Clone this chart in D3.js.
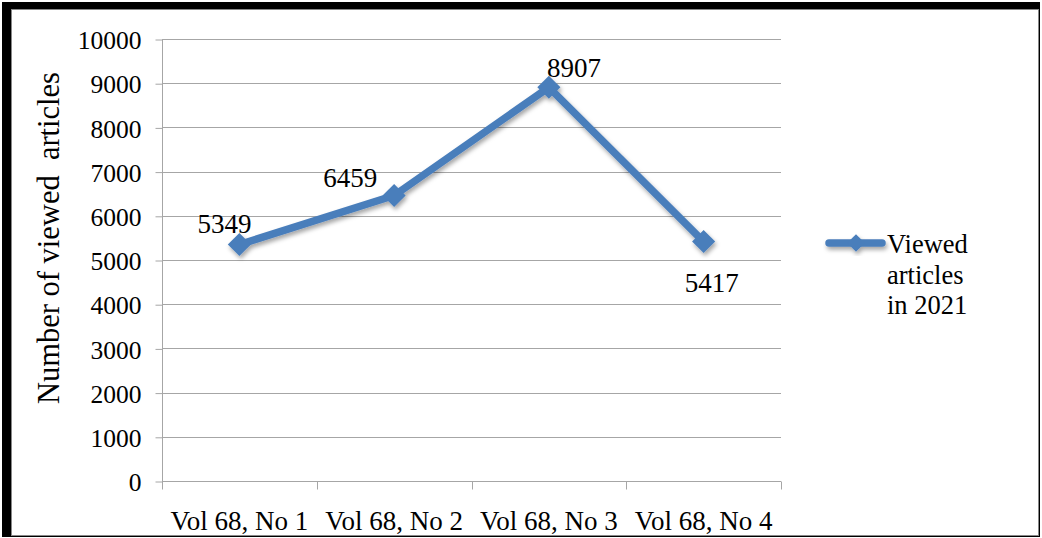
<!DOCTYPE html>
<html>
<head>
<meta charset="utf-8">
<script src="https://cdn.jsdelivr.net/npm/d3@7"></script>
<style>
  html, body { margin: 0; padding: 0; background: #fff; }
  svg { display: block; }
</style>
</head>
<body>
<script>
// Issues of volume 68 and the number of article views for each
const categories = ["Vol 68, No 1", "Vol 68, No 2", "Vol 68, No 3", "Vol 68, No 4"];
const viewed = [5349, 6459, 8907, 5417];
const yTicks = [0, 1000, 2000, 3000, 4000, 5000, 6000, 7000, 8000, 9000, 10000];
const seriesName = ["Viewed", "articles", "in 2021"];
// label nudges relative to each point (placement only)
const labelOffsets = [[-15, -12], [-44, -9], [25, -10], [8, 50]];

const W = 1042, H = 538;
const plot = { left: 162, right: 781, top: 39, bottom: 481 };
const blue = "#4A7EBB";
const serif = "'Liberation Serif', 'Times New Roman', serif";

const svg = d3.select("body").append("svg").attr("width", W).attr("height", H);

// drop shadow under the series line
const defs = svg.append("defs");
const f = defs.append("filter").attr("id", "shadow")
  .attr("x", "-10%").attr("y", "-10%").attr("width", "130%").attr("height", "130%");
f.append("feDropShadow").attr("dx", 1.5).attr("dy", 3).attr("stdDeviation", 2)
  .attr("flood-color", "#000").attr("flood-opacity", 0.35);

// frame: heavy black on top/left, thin dark edge on right/bottom
svg.append("rect").attr("x", 2).attr("y", 2).attr("width", 1038).attr("height", 535).attr("fill", "#000");
svg.append("rect").attr("x", 11.5).attr("y", 9.5).attr("width", 1027).attr("height", 526)
  .attr("fill", "#fff").attr("stroke", "#888").attr("stroke-width", 1);

const x = d3.scaleBand().domain(categories).range([plot.left, plot.right]);
const y = d3.scaleLinear().domain([0, 10000]).range([plot.bottom, plot.top]);

// horizontal gridlines
svg.append("g").selectAll("line").data(yTicks.filter(d => d > 0)).join("line")
  .attr("x1", plot.left).attr("x2", plot.right)
  .attr("y1", d => Math.round(y(d)) + 0.5).attr("y2", d => Math.round(y(d)) + 0.5)
  .attr("stroke", "#a6a6a6").attr("stroke-width", 1);

// y axis
const yAxis = svg.append("g").attr("transform", `translate(${plot.left + 0.5},0.5)`)
  .call(d3.axisLeft(y).tickValues(yTicks).tickSize(7).tickPadding(14).tickFormat(d3.format("d")));
yAxis.select(".domain").attr("stroke", "#a6a6a6").attr("d", `M0,${Math.round(y(10000))}V${Math.round(y(0))}`);
yAxis.selectAll(".tick line").attr("stroke", "#a6a6a6");
yAxis.selectAll(".tick text").attr("dy", "0.36em")
  .style("font-size", "25.5px").style("font-family", serif).attr("fill", "#000");

// x axis
const xAxis = svg.append("g").attr("transform", `translate(0,${Math.round(plot.bottom) + 0.5})`)
  .call(d3.axisBottom(x).tickSize(0).tickPadding(29));
xAxis.select(".domain").remove();
xAxis.append("line").attr("x1", plot.left).attr("x2", plot.right).attr("stroke", "#a6a6a6");
const edges = categories.map(c => x(c)).concat([plot.right]);
xAxis.selectAll(".edge").data(edges).join("line").attr("class", "edge")
  .attr("x1", d => Math.round(d) + 0.5).attr("x2", d => Math.round(d) + 0.5)
  .attr("y1", 0).attr("y2", 8).attr("stroke", "#a6a6a6");
xAxis.selectAll(".tick text").style("font-size", "27px").style("font-family", serif).attr("fill", "#000");

// y axis title
svg.append("text")
  .attr("transform", "translate(59,238) rotate(-90)")
  .attr("text-anchor", "middle")
  .style("font-size", "30.5px").style("font-family", serif)
  .text("Number of viewed\u00A0 articles");

// series line with diamond markers
const pts = categories.map((c, i) => [x(c) + x.bandwidth() / 2, y(viewed[i])]);
const series = svg.append("g").attr("filter", "url(#shadow)");
series.append("path")
  .attr("d", d3.line()(pts))
  .attr("fill", "none").attr("stroke", blue).attr("stroke-width", 7.5)
  .attr("stroke-linejoin", "round").attr("stroke-linecap", "round");
const diamond = d3.symbol().type(d3.symbolDiamond2).size(340);
series.selectAll("path.mk").data(pts).join("path").attr("class", "mk")
  .attr("transform", d => `translate(${d[0]},${d[1]})`)
  .attr("d", diamond).attr("fill", blue);

// value labels
svg.append("g").selectAll("text").data(pts).join("text")
  .attr("x", (d, i) => d[0] + labelOffsets[i][0])
  .attr("y", (d, i) => d[1] + labelOffsets[i][1])
  .attr("text-anchor", "middle")
  .style("font-size", "27px").style("font-family", serif)
  .text((d, i) => viewed[i]);

// legend
const lg = svg.append("g").attr("transform", "translate(826,243)");
const lgSeries = lg.append("g").attr("filter", "url(#shadow)");
lgSeries.append("line").attr("x1", 3).attr("x2", 56).attr("y1", 0).attr("y2", 0)
  .attr("stroke", blue).attr("stroke-width", 7.5).attr("stroke-linecap", "round");
lgSeries.append("path").attr("transform", "translate(30,0)")
  .attr("d", d3.symbol().type(d3.symbolDiamond2).size(200)).attr("fill", blue);
lg.append("text").attr("x", 61).attr("y", 10)
  .style("font-size", "26.5px").style("font-family", serif)
  .selectAll("tspan").data(seriesName).join("tspan")
  .attr("x", 61).attr("dy", (d, i) => i === 0 ? 0 : 30.5).text(d => d);
</script>
</body>
</html>
